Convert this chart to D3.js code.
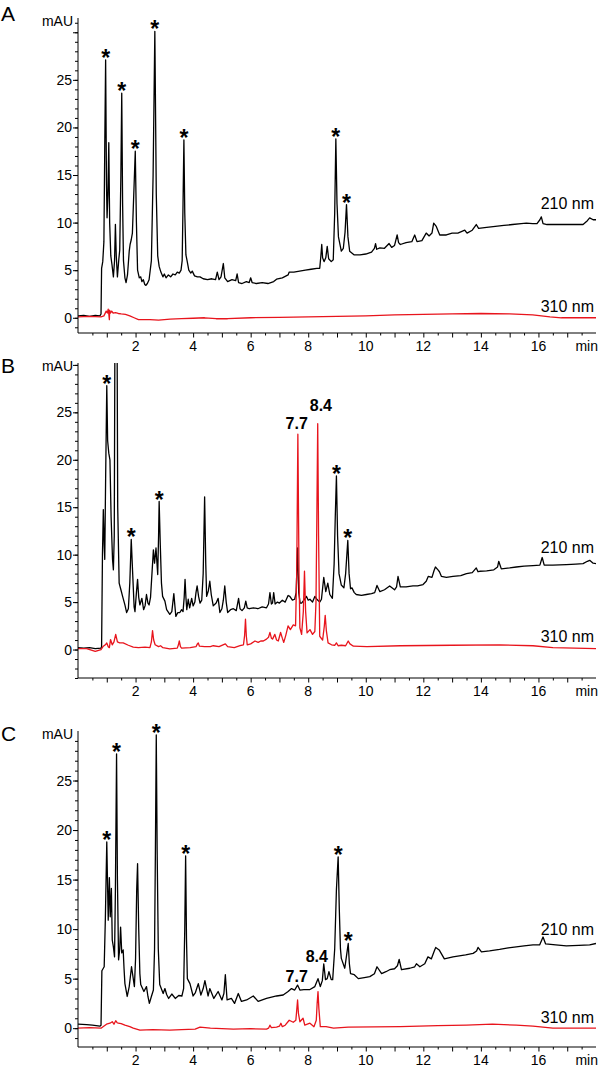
<!DOCTYPE html>
<html>
<head>
<meta charset="utf-8">
<script src="https://cdn.jsdelivr.net/npm/d3@7"></script>
<style>
body { margin: 0; background: #fff; }
svg text { font-family: "Liberation Sans", Arial, Helvetica, sans-serif; fill: #000; }
</style>
</head>
<body>
<div id="graph"></div>
<script>
// retention time (min), absorbance (mAU)
const a210 = [[0,0.2],[0.2,0.25],[0.4,0.15],[0.6,0.25],[0.76,0.2],[0.8,0.4],[0.82,5.2],[0.86,5.9],[0.9,8],[0.93,18],[0.96,27.1],[0.99,14],[1.01,10.5],[1.04,13],[1.07,18.4],[1.1,10],[1.14,6.5],[1.18,5.6],[1.23,4.3],[1.27,6],[1.3,9.8],[1.33,6.5],[1.37,4.3],[1.42,6.2],[1.45,7.1],[1.49,15],[1.52,23.6],[1.55,12],[1.58,6],[1.63,4.2],[1.67,3.7],[1.72,4.5],[1.78,7],[1.81,7.7],[1.85,8.2],[1.89,8.9],[1.95,14],[1.99,17.5],[2.03,10],[2.07,5],[2.13,4.2],[2.18,4.3],[2.22,3.8],[2.27,4.0],[2.32,3.5],[2.36,3.4],[2.41,3.6],[2.47,4.0],[2.55,6],[2.61,15],[2.67,30.1],[2.72,13],[2.77,6.5],[2.82,5.4],[2.88,4.8],[2.95,4.3],[3.0,4.6],[3.06,4.2],[3.14,4.5],[3.22,4.3],[3.3,4.6],[3.38,4.5],[3.45,4.8],[3.52,4.7],[3.58,5.0],[3.62,6],[3.65,12],[3.68,18.7],[3.71,11],[3.75,6.6],[3.79,6.0],[3.85,5.0],[3.92,4.7],[3.97,4.9],[4.05,4.4],[4.15,4.3],[4.24,4.3],[4.35,4.1],[4.5,4.0],[4.65,4.1],[4.78,4.0],[4.84,4.8],[4.9,4.0],[4.97,4.3],[5.05,5.7],[5.1,4.2],[5.2,3.8],[5.35,4.0],[5.48,3.9],[5.53,4.6],[5.58,3.7],[5.7,3.6],[5.85,3.8],[5.95,3.7],[6.0,4.2],[6.05,3.7],[6.2,3.6],[6.4,3.7],[6.6,3.6],[6.8,3.8],[6.9,4.06],[7.1,4.2],[7.3,4.5],[7.34,4.8],[7.5,4.8],[7.7,4.9],[7.9,5.0],[8.1,5.1],[8.3,5.2],[8.4,5.2],[8.44,6.5],[8.47,7.7],[8.5,6.3],[8.55,5.9],[8.61,6.3],[8.66,7.5],[8.71,6.2],[8.8,5.9],[8.87,6.1],[8.92,11],[8.96,18.8],[9.0,12],[9.05,8.5],[9.15,7.0],[9.22,7.3],[9.28,9],[9.33,11.9],[9.38,8.5],[9.44,7.0],[9.6,6.6],[9.8,6.6],[10.0,6.7],[10.2,6.9],[10.3,7.3],[10.34,7.8],[10.38,7.2],[10.49,7.35],[10.65,7.3],[10.81,7.8],[10.9,7.4],[11.0,7.6],[11.09,8.7],[11.14,7.9],[11.2,7.7],[11.4,7.9],[11.6,8.0],[11.7,8.7],[11.78,8.0],[11.95,8.1],[12.1,8.9],[12.2,8.6],[12.3,8.9],[12.36,9.95],[12.45,9.6],[12.57,8.7],[12.8,8.7],[13.0,8.9],[13.2,8.9],[13.44,9.2],[13.52,8.9],[13.7,9.2],[13.84,9.8],[13.92,9.4],[14.2,9.5],[14.5,9.6],[14.8,9.7],[15.1,9.8],[15.4,9.9],[15.58,9.95],[15.8,9.9],[15.95,9.9],[16.05,10.3],[16.1,10.6],[16.16,9.9],[16.3,9.8],[16.6,9.8],[17.0,9.8],[17.3,9.8],[17.55,9.8],[17.7,10.2],[17.78,10.5],[17.9,10.3],[18.0,10.3]];
const a310 = [[0,0.1],[0.4,0.15],[0.8,0.1],[0.9,0.2],[0.98,0.7],[1.02,0.5],[1.05,0.9],[1.07,0.4],[1.09,-0.2],[1.1,0.8],[1.13,0.5],[1.17,0.7],[1.22,0.5],[1.3,0.55],[1.4,0.45],[1.5,0.4],[1.65,0.35],[1.8,0.2],[1.95,0],[2.1,-0.2],[2.5,-0.2],[2.8,-0.25],[3.2,-0.15],[3.6,-0.1],[4.0,-0.05],[4.4,0],[4.8,-0.1],[5.2,-0.1],[6.0,0],[7.0,0.05],[8.0,0.1],[9.0,0.15],[10.0,0.2],[11.0,0.3],[12.0,0.35],[13.0,0.4],[14.0,0.45],[15.0,0.4],[15.8,0.3],[16.4,0.1],[16.8,0.0],[18.0,0.0]];

const b210 = [[0,0.2],[0.2,0.15],[0.4,0.2],[0.6,0.1],[0.8,0.15],[0.82,0.3],[0.85,10],[0.88,14.75],[0.91,11],[0.93,9.5],[0.96,18],[1.0,27.8],[1.03,22],[1.07,20.7],[1.11,20],[1.15,14],[1.2,9.5],[1.23,8.4],[1.26,12],[1.29,40],[1.32,45],[1.35,40],[1.38,15],[1.43,7.0],[1.5,6.2],[1.55,5.6],[1.63,4.7],[1.69,3.9],[1.75,4.3],[1.8,7],[1.85,11.6],[1.9,8],[1.95,4.5],[1.98,4.0],[2.03,6],[2.07,7.4],[2.11,5.5],[2.15,4.7],[2.22,5.4],[2.28,4.2],[2.33,4.6],[2.38,5.8],[2.43,4.9],[2.47,4.7],[2.52,5.5],[2.57,8],[2.62,10.5],[2.66,9.1],[2.71,10.7],[2.77,7.9],[2.8,12],[2.82,15.6],[2.86,11],[2.9,7],[2.94,5.6],[3.02,5.1],[3.08,4.2],[3.19,3.7],[3.26,4.0],[3.33,5.9],[3.37,4.5],[3.4,3.5],[3.47,3.9],[3.54,3.9],[3.6,4.2],[3.65,4.0],[3.69,5.5],[3.72,7.4],[3.75,5.5],[3.78,4.2],[3.83,5.3],[3.88,4.4],[3.95,5.4],[4.0,4.6],[4.06,5.0],[4.1,6.0],[4.14,6.7],[4.19,5.6],[4.24,4.9],[4.3,5.2],[4.35,8],[4.4,16.1],[4.44,9],[4.47,5.6],[4.53,6.2],[4.58,7.2],[4.63,5.8],[4.7,4.6],[4.8,4.9],[4.87,5.4],[4.93,3.9],[5.0,4.3],[5.05,5.2],[5.1,6.7],[5.15,5.0],[5.2,3.9],[5.3,4.2],[5.4,4.3],[5.5,4.1],[5.58,5.4],[5.63,4.3],[5.7,4.1],[5.78,4.4],[5.83,5.1],[5.88,4.4],[5.95,4.3],[6.1,4.4],[6.25,4.3],[6.4,4.5],[6.55,4.4],[6.62,4.8],[6.67,6.0],[6.72,4.8],[6.76,4.9],[6.8,6.0],[6.85,4.8],[6.93,5.0],[7.0,4.9],[7.1,5.2],[7.2,5.0],[7.3,5.7],[7.36,5.6],[7.45,5.2],[7.53,5.3],[7.58,6.0],[7.63,10.7],[7.67,6],[7.72,4.9],[7.77,4.9],[7.85,5.2],[7.94,5.6],[8.0,5.2],[8.06,5.3],[8.15,5.0],[8.23,5.6],[8.3,5.3],[8.4,5.0],[8.46,5.3],[8.54,7.6],[8.61,6.1],[8.68,7.0],[8.75,5.8],[8.84,5.4],[8.9,9],[8.94,14],[8.98,18.3],[9.02,12],[9.07,8],[9.15,6.8],[9.24,6.5],[9.3,8],[9.375,11.5],[9.42,8],[9.47,6.4],[9.52,6.5],[9.6,6.0],[9.67,5.8],[9.85,5.7],[10.02,5.8],[10.2,5.9],[10.31,6.0],[10.39,6.75],[10.49,6.1],[10.65,6.3],[10.83,6.7],[11.0,6.3],[11.07,6.6],[11.12,7.7],[11.2,6.6],[11.4,6.6],[11.64,6.7],[11.8,6.7],[11.99,6.85],[12.1,7.2],[12.17,7.7],[12.3,7.6],[12.37,8.3],[12.42,8.7],[12.51,8.4],[12.56,8.2],[12.63,7.7],[12.8,7.6],[13.03,7.7],[13.3,7.8],[13.5,8.0],[13.7,8.1],[13.84,8.6],[13.9,8.2],[13.96,8.25],[14.2,8.3],[14.45,8.4],[14.58,8.7],[14.62,9.3],[14.71,8.5],[15.0,8.6],[15.23,8.7],[15.5,8.8],[15.81,8.85],[16.05,8.9],[16.13,9.7],[16.2,8.9],[16.5,8.9],[16.97,8.95],[17.3,9.0],[17.55,9.05],[17.7,9.3],[17.78,9.4],[17.9,9.1],[18,9.05]];
const b310 = [[0,0.1],[0.3,0.1],[0.6,-0.2],[0.8,0.0],[0.88,0.35],[0.95,0.5],[1.0,0.7],[1.05,0.3],[1.09,0.2],[1.13,1.05],[1.19,0.5],[1.25,0.8],[1.31,1.6],[1.37,0.8],[1.45,0.7],[1.57,0.7],[1.75,0.45],[1.92,0.25],[2.1,0.2],[2.33,0.25],[2.5,0.2],[2.55,0.8],[2.59,2.0],[2.63,1.0],[2.68,0.5],[2.8,0.3],[2.87,0.4],[2.95,0.2],[3.19,0.07],[3.45,0.15],[3.49,0.5],[3.52,0.9],[3.56,0.3],[3.6,0.15],[3.9,0.2],[4.1,0.3],[4.15,0.6],[4.18,0.7],[4.22,0.35],[4.4,0.3],[4.6,0.3],[4.7,0.4],[4.9,0.3],[5.12,0.6],[5.2,0.3],[5.43,0.2],[5.63,0.4],[5.75,0.5],[5.79,1.5],[5.82,3.2],[5.85,1.4],[5.88,0.5],[6.0,0.6],[6.15,0.9],[6.26,0.75],[6.35,0.9],[6.44,0.9],[6.55,1.1],[6.62,1.3],[6.67,1.8],[6.72,1.2],[6.76,1.1],[6.84,1.6],[6.9,1.0],[6.96,0.9],[7.04,1.8],[7.1,1.2],[7.15,0.75],[7.22,1.5],[7.3,2.5],[7.38,2.1],[7.48,2.6],[7.56,2.5],[7.6,8],[7.64,22.7],[7.68,8],[7.71,2.3],[7.77,1.6],[7.83,4],[7.87,8.25],[7.91,4],[7.96,1.75],[8.06,2.1],[8.15,1.6],[8.23,1.9],[8.27,5],[8.3,14],[8.33,23.8],[8.36,12],[8.4,1.4],[8.5,1.0],[8.56,2.5],[8.59,3.6],[8.63,2],[8.69,0.7],[8.81,0.5],[8.92,0.45],[8.98,0.7],[9.04,0.4],[9.15,0.45],[9.3,0.4],[9.39,0.9],[9.45,0.6],[9.57,0.35],[10.04,0.3],[11.2,0.4],[13.0,0.45],[14.65,0.5],[15.81,0.4],[16.5,0.2],[18,0.1]];

const c210 = [[0,0.4],[0.3,0.35],[0.5,0.3],[0.76,0.2],[0.8,0.3],[0.83,5.8],[0.87,6.0],[0.91,6.2],[0.95,11],[1.0,18.8],[1.03,14],[1.05,10.9],[1.09,15.2],[1.12,11.25],[1.16,14.1],[1.19,8.9],[1.23,8.2],[1.27,7.2],[1.3,14],[1.34,27.7],[1.37,15],[1.41,6.9],[1.45,8],[1.48,10.2],[1.52,7.6],[1.57,7.9],[1.6,6],[1.63,4.5],[1.71,3.2],[1.78,4.2],[1.86,6.2],[1.92,5.0],[1.96,4.2],[2.0,7],[2.04,14],[2.07,16.6],[2.11,10],[2.15,5.5],[2.18,4.4],[2.29,3.7],[2.38,4.2],[2.43,3.2],[2.48,2.5],[2.55,3.2],[2.62,3.85],[2.66,8],[2.69,18],[2.72,29.6],[2.75,18],[2.79,8],[2.84,4.4],[2.96,3.5],[3.02,4.0],[3.08,3.4],[3.15,3.0],[3.26,3.45],[3.38,3.0],[3.5,3.3],[3.61,3.25],[3.67,4.0],[3.71,10],[3.74,17.4],[3.77,9],[3.8,5.0],[3.89,4.5],[4.0,3.25],[4.08,3.6],[4.18,4.5],[4.27,3.35],[4.35,4.0],[4.41,4.8],[4.52,3.25],[4.58,4.0],[4.72,3.0],[4.87,3.7],[5.0,2.85],[5.07,3.5],[5.12,5.4],[5.18,2.85],[5.33,3.0],[5.44,2.5],[5.57,3.5],[5.68,2.7],[5.86,2.85],[6.09,3.25],[6.26,2.7],[6.55,3.0],[6.9,3.25],[7.13,3.35],[7.3,3.7],[7.42,4.0],[7.53,3.85],[7.63,4.35],[7.71,3.85],[7.85,3.9],[8.06,3.9],[8.23,4.2],[8.34,5.0],[8.42,4.2],[8.49,4.8],[8.54,6.5],[8.6,4.9],[8.66,5.0],[8.72,5.7],[8.8,4.9],[8.85,4.9],[8.92,8],[8.98,14],[9.04,17.3],[9.08,12],[9.12,8],[9.15,7.05],[9.27,6.05],[9.34,7.5],[9.39,8.55],[9.43,6.5],[9.47,5.5],[9.6,5.4],[9.74,5.0],[9.95,5.1],[10.14,5.2],[10.3,5.5],[10.39,6.2],[10.55,5.5],[10.7,5.7],[10.83,5.9],[11.0,6.0],[11.1,6.3],[11.16,6.95],[11.24,5.9],[11.53,6.05],[11.7,6.2],[11.76,6.5],[11.88,6.2],[12.05,6.5],[12.16,7.2],[12.28,7.0],[12.38,7.8],[12.43,8.15],[12.55,7.9],[12.73,7.0],[13.03,7.2],[13.25,7.3],[13.47,7.4],[13.73,7.55],[13.85,7.8],[13.9,8.15],[14.02,7.7],[14.3,7.8],[14.65,7.95],[14.95,8.1],[15.23,8.2],[15.5,8.3],[15.81,8.4],[16.04,8.4],[16.16,9.2],[16.25,8.5],[16.6,8.4],[16.97,8.3],[17.4,8.35],[17.78,8.4],[18,8.55]];
const c310 = [[0,0.0],[0.4,0.05],[0.8,0.0],[0.87,0.15],[0.99,0.4],[1.11,0.5],[1.19,0.65],[1.25,0.4],[1.31,0.75],[1.36,0.55],[1.4,0.5],[1.5,0.45],[1.63,0.3],[1.8,0.15],[1.92,0.0],[2.15,-0.2],[2.6,-0.15],[3.19,-0.2],[3.6,-0.15],[4.07,-0.1],[4.24,0.1],[4.6,0.0],[5.0,-0.05],[5.4,-0.1],[6.0,-0.05],[6.55,-0.1],[6.62,0.0],[6.67,0.3],[6.72,0.05],[6.9,0.1],[7.0,0.2],[7.05,0.5],[7.1,0.15],[7.2,0.3],[7.34,0.8],[7.48,0.6],[7.57,0.8],[7.6,1.8],[7.63,2.85],[7.66,1.5],[7.71,0.65],[7.82,1.0],[7.88,0.3],[8.06,0.5],[8.2,0.15],[8.28,0.8],[8.31,2.5],[8.34,3.7],[8.37,2],[8.42,0.15],[8.62,0.15],[8.88,0.0],[9.39,0.1],[11.2,0.15],[12.5,0.25],[13.5,0.3],[14.4,0.4],[15.23,0.3],[15.81,0.2],[16.5,0.0],[18,0.0]];

// peaks marked with *
const starsA = [0.96, 1.52, 1.99, 2.67, 3.68, 8.96, 9.33];
const starsB = [1.0, 1.85, 2.82, 8.98, 9.375];
const starsC = [1.0, 1.34, 2.72, 3.74, 9.04, 9.39];

// bold retention-time labels [text, time, mAU]
const peakLabelsB = [['7.7', 7.6, 23.2], ['8.4', 8.44, 25.1]];
const peakLabelsC = [['7.7', 7.6, 4.7], ['8.4', 8.3, 6.7]];

const xTickLabels = [2, 4, 6, 8, 10, 12, 14, 16];
const yTickLabels = [0, 5, 10, 15, 20, 25];

const w = 600;
const h = 1068;
const left = 78;
const right = 596;

const panels = [
	{ key: 'A', s210: a210, s310: a310, stars: starsA, labels: [], top: 18, bottom: 333, dom: [-1.6, 31.5], letterY: 21, lab210: 11.4, lab310: 0.6 },
	{ key: 'B', s210: b210, s310: b310, stars: starsB, labels: peakLabelsB, top: 363, bottom: 678, dom: [-3, 30.2], letterY: 373, lab210: 10.2, lab310: 0.8 },
	{ key: 'C', s210: c210, s310: c310, stars: starsC, labels: peakLabelsC, top: 731, bottom: 1047, dom: [-1.9, 30], letterY: 741, lab210: 9.4, lab310: 0.5 }
];

const svg = d3.select('#graph')
	.append('svg')
	.attr('width', w)
	.attr('height', h);

const xScale = d3.scaleLinear()
	.domain([0, 18])
	.range([left, right]);

panels.forEach((p, i) => {
	const yScale = d3.scaleLinear()
		.domain(p.dom)
		.range([p.bottom, p.top]);

	const g = svg.append('g');

	// clip so the off-scale peak is cut at the top
	g.append('clipPath')
		.attr('id', 'clip' + i)
		.append('rect')
		.attr('x', left)
		.attr('y', p.top)
		.attr('width', right - left)
		.attr('height', p.bottom - p.top);

	const line = d3.line()
		.x(d => xScale(d[0]))
		.y(d => yScale(d[1]));

	g.append('path')
		.datum(p.s210)
		.attr('d', line)
		.attr('clip-path', 'url(#clip' + i + ')')
		.attr('fill', 'none')
		.attr('stroke', '#000')
		.attr('stroke-width', 1.3)
		.attr('stroke-linejoin', 'round');

	g.append('path')
		.datum(p.s310)
		.attr('d', line)
		.attr('clip-path', 'url(#clip' + i + ')')
		.attr('fill', 'none')
		.attr('stroke', '#e8141c')
		.attr('stroke-width', 1.3)
		.attr('stroke-linejoin', 'round');

	//x-Axis: minor ticks every 0.5 min, longer every 1 min
	const xMinor = d3.axisBottom(xScale)
		.tickValues(d3.range(0.5, 18, 1))
		.tickSize(2.5)
		.tickFormat('');
	const xMajor = d3.axisBottom(xScale)
		.tickValues(d3.range(1, 18, 1))
		.tickSize(4.5)
		.tickFormat('');
	g.append('g')
		.attr('transform', 'translate(0,' + p.bottom + ')')
		.call(xMinor)
		.call(ax => ax.select('.domain').remove());
	g.append('g')
		.attr('transform', 'translate(0,' + p.bottom + ')')
		.call(xMajor)
		.call(ax => ax.select('.domain').attr('d', 'M' + left + ',0H' + right));

	g.selectAll('.xlab')
		.data(xTickLabels)
		.enter()
		.append('text')
		.attr('x', d => xScale(d))
		.attr('y', p.bottom + 18)
		.attr('text-anchor', 'middle')
		.attr('font-size', 14)
		.text(d => d);

	g.append('text')
		.attr('x', right + 2)
		.attr('y', p.bottom + 18)
		.attr('text-anchor', 'end')
		.attr('font-size', 14)
		.text('min');

	//y-Axis: minor ticks every 1 mAU, major every 5
	const yMinor = d3.axisLeft(yScale)
		.tickValues(d3.range(Math.ceil(p.dom[0]), p.dom[1], 1))
		.tickSize(3)
		.tickFormat('');
	const yMajor = d3.axisLeft(yScale)
		.tickValues(d3.range(0, p.dom[1], 5))
		.tickSize(5)
		.tickFormat('');
	g.append('g')
		.attr('transform', 'translate(' + left + ',0)')
		.call(yMinor)
		.call(ax => ax.select('.domain').remove());
	g.append('g')
		.attr('transform', 'translate(' + left + ',0)')
		.call(yMajor)
		.call(ax => ax.select('.domain').attr('d', 'M0,' + p.top + 'V' + p.bottom));

	g.selectAll('.ylab')
		.data(yTickLabels)
		.enter()
		.append('text')
		.attr('x', left - 6)
		.attr('y', d => yScale(d))
		.attr('dy', '0.36em')
		.attr('text-anchor', 'end')
		.attr('font-size', 14)
		.text(d => d);

	//y-label
	g.append('text')
		.attr('x', left - 5)
		.attr('y', p.top + 8)
		.attr('text-anchor', 'end')
		.attr('font-size', 14)
		.text('mAU');

	// panel letter
	g.append('text')
		.attr('x', 1)
		.attr('y', p.letterY)
		.attr('font-size', 21)
		.text(p.key);

	// trace labels
	g.append('text')
		.attr('x', right - 2)
		.attr('y', yScale(p.lab210))
		.attr('text-anchor', 'end')
		.attr('font-size', 16)
		.text('210 nm');
	g.append('text')
		.attr('x', right - 2)
		.attr('y', yScale(p.lab310))
		.attr('text-anchor', 'end')
		.attr('font-size', 16)
		.text('310 nm');

	// asterisks above the peak tips
	const peakTop = t => d3.max(p.s210.filter(d => Math.abs(d[0] - t) < 0.05), d => d[1]);
	g.selectAll('.star')
		.data(p.stars)
		.enter()
		.append('text')
		.attr('x', d => xScale(d))
		.attr('y', d => yScale(peakTop(d)) + 6)
		.attr('text-anchor', 'middle')
		.attr('font-size', 23)
		.attr('font-weight', 'bold')
		.text('*');

	g.selectAll('.plab')
		.data(p.labels)
		.enter()
		.append('text')
		.attr('x', d => xScale(d[1]))
		.attr('y', d => yScale(d[2]))
		.attr('text-anchor', 'middle')
		.attr('font-size', 16)
		.attr('font-weight', 'bold')
		.text(d => d[0]);
});
</script>
</body>
</html>
